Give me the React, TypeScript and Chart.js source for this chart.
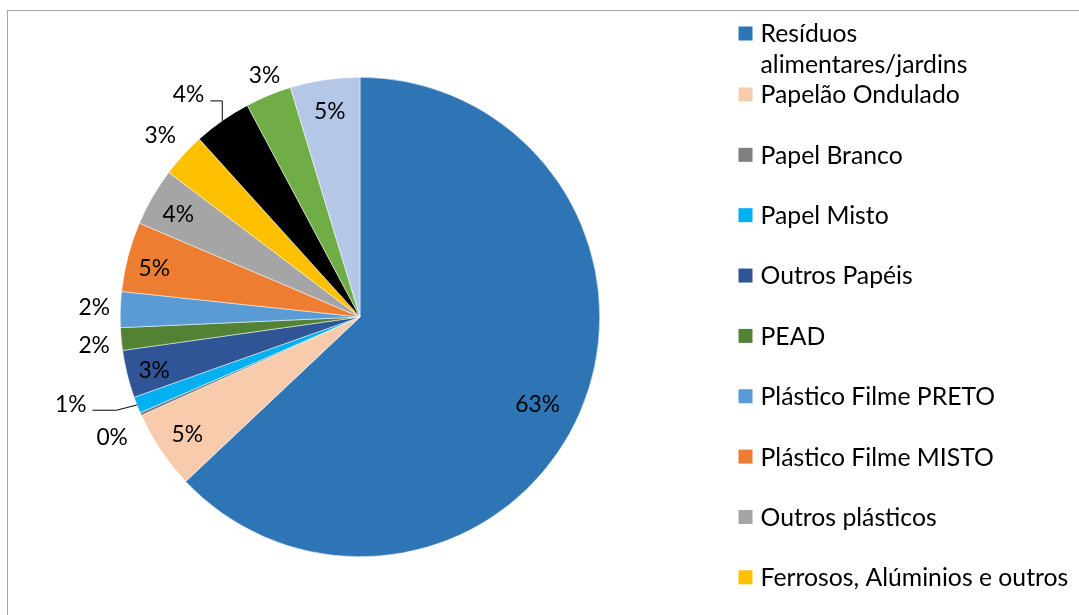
import React, { useEffect, useRef } from "react";
import { Chart, registerables } from "chart.js";

Chart.register(...registerables);

// ---- data ----
const categories: (string | string[])[] = [
  ["Resíduos", "alimentares/jardins"],
  "Papelão Ondulado",
  "Papel Branco",
  "Papel Misto",
  "Outros Papéis",
  "PEAD",
  "Plástico Filme PRETO",
  "Plástico Filme MISTO",
  "Outros plásticos",
  "Ferrosos, Alúminios e outros",
  "Vidro",
  "Têxteis",
  "Outros",
];
const values = [62.9, 5.3, 0.2, 1.1, 3.2, 1.52, 2.4, 4.7, 3.9, 3.0, 3.9, 3.1, 4.68];
const colors = [
  "#2E75B6",
  "#F8CBAD",
  "#7F7F7F",
  "#00B0F0",
  "#2F5597",
  "#548235",
  "#5B9BD5",
  "#ED7D31",
  "#A5A5A5",
  "#FFC000",
  "#000000",
  "#70AD47",
  "#B4C7E7",
];

// ---- label placement style (relative to each slice) ----
const labelDist = [0.825, 0.87, 1.149, 1.259, 0.886, 1.115, 1.109, 0.883, 0.871, 1.127, 1.173, 1.085, 0.87];
const labelShiftDeg = [2.75, -0.3, -2, 4.9, -0.5, -0.7, 0.4, -1.0, -0.6, -0.2, -2.5, 0.9, 0.1];
const labelLeader = [false, false, false, true, false, false, false, false, false, false, true, false, false];

const FONT = "Lato, 'Open Sans', sans-serif";

function fitSize(ctx: CanvasRenderingContext2D, text: string, target: number) {
  ctx.save();
  ctx.font = `100px ${FONT}`;
  const w = ctx.measureText(text).width;
  ctx.restore();
  return (100 * target) / w;
}

const sliceLabelPlugin = {
  id: "sliceLabels",
  afterDatasetsDraw(chart: any) {
    const ctx: CanvasRenderingContext2D = chart.ctx;
    const meta = chart.getDatasetMeta(0);
    const ds = chart.data.datasets[0].data as number[];
    const total = ds.reduce((a, b) => a + b, 0);
    const size = fitSize(ctx, "2%", 31.5);
    ctx.save();
    ctx.font = `${size}px ${FONT}`;
    ctx.textAlign = "center";
    ctx.textBaseline = "alphabetic";
    meta.data.forEach((arc: any, i: number) => {
      const { x, y, startAngle, endAngle, outerRadius } = arc.getProps(
        ["x", "y", "startAngle", "endAngle", "outerRadius"],
        true
      );
      const mid = (startAngle + endAngle) / 2;
      const a = mid + (labelShiftDeg[i] * Math.PI) / 180;
      const d = labelDist[i] * outerRadius;
      const lx = x + Math.cos(a) * d;
      const ly = y + Math.sin(a) * d;
      const text = Math.round((ds[i] / total) * 100) + "%";
      ctx.fillStyle = "#000";
      ctx.fillText(text, lx, ly + size * 0.36);
      if (labelLeader[i]) {
        const w = ctx.measureText(text).width;
        const ex = x + Math.cos(mid) * outerRadius;
        const ey = y + Math.sin(mid) * outerRadius;
        const sx = lx + w / 2 + 6;
        const sy = ly + size * 0.3;
        const hx = sx + Math.min(24, ex - sx);
        ctx.beginPath();
        ctx.moveTo(sx, sy);
        ctx.lineTo(hx, sy);
        ctx.lineTo(ex, ey);
        ctx.strokeStyle = "#000";
        ctx.lineWidth = 1;
        ctx.stroke();
      }
    });
    ctx.restore();
  },
};

const sideLegendPlugin = {
  id: "sideLegend",
  afterDraw(chart: any) {
    const ctx: CanvasRenderingContext2D = chart.ctx;
    const size = fitSize(ctx, "Ferrosos, Alúminios e outros", 308);
    const labels = chart.data.labels as (string | string[])[];
    const bg = chart.data.datasets[0].backgroundColor as string[];
    ctx.save();
    ctx.font = `${size}px ${FONT}`;
    ctx.textAlign = "left";
    ctx.textBaseline = "alphabetic";
    labels.forEach((lab, i) => {
      const lines = Array.isArray(lab) ? lab : [lab];
      const yc = i === 0 ? 33.5 : 94.5 + (i - 1) * 60.35;
      ctx.fillStyle = bg[i];
      ctx.fillRect(738.5, yc - 7, 14, 14);
      ctx.fillStyle = "#000";
      lines.forEach((ln, k) => {
        ctx.fillText(ln, 760.5, yc + k * 31 + size * 0.36);
      });
    });
    ctx.restore();
  },
};

export default function App() {
  const ref = useRef<HTMLCanvasElement>(null);
  useEffect(() => {
    const chart = new Chart(ref.current as HTMLCanvasElement, {
      type: "pie",
      data: {
        labels: categories as any,
        datasets: [
          {
            data: values,
            backgroundColor: colors,
            borderColor: "#FFFFFF",
            borderWidth: 0.5,
          },
        ],
      },
      options: {
        responsive: true,
        maintainAspectRatio: false,
        animation: false,
        layout: { padding: { left: 120, right: 479, top: 77, bottom: 58 } },
        plugins: {
          legend: { display: false },
          tooltip: { enabled: false },
        },
      },
      plugins: [sliceLabelPlugin, sideLegendPlugin],
    });
    return () => chart.destroy();
  }, []);
  return (
    <div
      style={{
        position: "fixed",
        left: 0,
        top: 0,
        width: 1079,
        height: 615,
        background: "#fff",
        overflow: "hidden",
      }}
    >
      <div
        style={{
          position: "absolute",
          left: 7,
          top: 10,
          right: 0,
          bottom: 0,
          borderLeft: "1px solid #A6A6A6",
          borderTop: "1px solid #A6A6A6",
        }}
      />
      <div style={{ position: "absolute", left: 0, top: 0, width: 1079, height: 615 }}>
        <canvas ref={ref} />
      </div>
    </div>
  );
}
